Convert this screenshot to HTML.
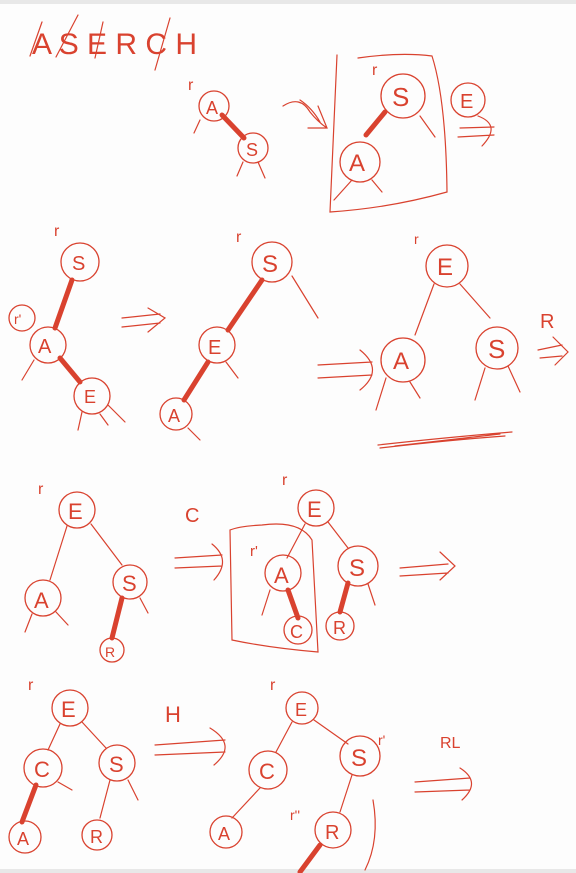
<!DOCTYPE html>
<html><head><meta charset="utf-8">
<style>
html,body{margin:0;padding:0;background:#fdfdfd;}
svg{display:block;}
text{font-family:"URW Chancery L","Z003","Comic Sans MS","Liberation Sans",cursive,sans-serif;fill:#d9422f;}
.c{fill:none;stroke:#d9422f;stroke-width:1.3;}
.l{fill:none;stroke:#d9422f;stroke-width:1.2;stroke-linecap:round;}
.t{fill:none;stroke:#d9422f;stroke-width:5;stroke-linecap:round;}
</style></head>
<body>
<svg width="576" height="873" viewBox="0 0 576 873">
<rect x="0" y="0" width="576" height="4" fill="#e8e8e8"/>
<rect x="0" y="869" width="576" height="4" fill="#e8e8e8"/>

<g>
<text x="32" y="54" font-size="30">A S E R C H</text>
<path class="l" d="M30 56 L42 22 M56 57 L78 15 M95 58 L103 22 M155 70 L170 18"/>
</g>

<!-- row 1 -->
<g>
<text x="188" y="90" font-size="16">r</text>
<line class="t" x1="222" y1="115" x2="244" y2="138"/>
<circle class="c" cx="214" cy="106" r="15"/><text x="206" y="114" font-size="18">A</text>
<circle class="c" cx="253" cy="148" r="15"/><text x="246" y="156" font-size="18">S</text>
<path class="l" d="M200 120 L194 133 M243 162 L237 176 M258 162 L265 178"/>
</g>
<g><path class="l" d="M283 106 Q300 95 310 112 Q318 122 327 128 M300 100 Q312 108 320 122 M308 128 L327 128 L318 106"/></g>
<g>
<path class="l" d="M337 55 L330 212 Q390 208 447 192 Q446 100 432 56 Q400 52 358 58"/>
<text x="372" y="75" font-size="16">r</text>
<line class="t" x1="385" y1="112" x2="366" y2="135"/>
<circle class="c" cx="403" cy="96" r="22"/><text x="392" y="106" font-size="26">S</text>
<circle class="c" cx="360" cy="162" r="20"/><text x="349" y="171" font-size="24">A</text>
<path class="l" d="M420 116 L435 137 M352 180 L334 200 M372 180 L382 192"/>
</g>
<g>
<circle class="c" cx="468" cy="100" r="17"/><text x="460" y="108" font-size="20">E</text>
<path class="l" d="M460 128 L494 127 M458 137 L494 135 M478 116 Q502 125 482 146"/>
</g>

<!-- row 2 -->
<g>
<text x="54" y="236" font-size="16">r</text>
<circle class="c" cx="80" cy="262" r="19"/><text x="72" y="270" font-size="20">S</text>
<line class="t" x1="72" y1="280" x2="55" y2="328"/>
<circle class="c" cx="22" cy="318" r="13"/><text x="14" y="324" font-size="14">r'</text>
<circle class="c" cx="48" cy="345" r="18"/><text x="38" y="353" font-size="20">A</text>
<line class="t" x1="60" y1="358" x2="80" y2="382"/>
<circle class="c" cx="92" cy="396" r="18"/><text x="84" y="403" font-size="18">E</text>
<path class="l" d="M34 360 L22 380 M100 414 L108 425 M82 412 L78 430 M108 405 L125 422"/>
</g>
<g><path class="l" d="M122 318 L160 314 M122 327 L160 323 M148 308 L165 318 L148 332"/></g>
<g>
<text x="236" y="242" font-size="16">r</text>
<circle class="c" cx="272" cy="262" r="20"/><text x="262" y="272" font-size="24">S</text>
<line class="t" x1="262" y1="280" x2="228" y2="330"/>
<circle class="c" cx="217" cy="345" r="18"/><text x="208" y="354" font-size="20">E</text>
<line class="t" x1="208" y1="362" x2="184" y2="400"/>
<circle class="c" cx="176" cy="414" r="16"/><text x="168" y="422" font-size="18">A</text>
<path class="l" d="M292 276 L318 318 M226 362 L238 378 M188 428 L200 440"/>
</g>
<g><path class="l" d="M318 365 L372 362 M318 378 L372 375 M360 350 Q385 370 360 390"/></g>
<g>
<text x="414" y="244" font-size="14">r</text>
<circle class="c" cx="447" cy="266" r="21"/><text x="437" y="275" font-size="24">E</text>
<path class="l" d="M434 284 L415 335 M460 284 L490 318"/>
<circle class="c" cx="403" cy="360" r="22"/><text x="393" y="369" font-size="24">A</text>
<circle class="c" cx="497" cy="348" r="21"/><text x="488" y="358" font-size="26">S</text>
<path class="l" d="M386 378 L376 410 M410 382 L420 398 M485 368 L475 400 M508 366 L520 392"/>
<text x="540" y="328" font-size="20">R</text>
<path class="l" d="M538 350 L562 345 M540 358 L562 356 M553 337 L568 352 L555 365"/>
<path class="l" d="M378 445 Q440 438 512 432 M380 448 Q450 440 505 436 M395 446 L500 434"/>
</g>

<!-- row 3 -->
<g>
<text x="38" y="494" font-size="16">r</text>
<circle class="c" cx="77" cy="510" r="18"/><text x="68" y="519" font-size="22">E</text>
<path class="l" d="M67 526 L50 580 M91 524 L122 565"/>
<circle class="c" cx="43" cy="598" r="18"/><text x="34" y="608" font-size="22">A</text>
<circle class="c" cx="130" cy="582" r="17"/><text x="122" y="591" font-size="22">S</text>
<line class="t" x1="122" y1="598" x2="112" y2="638"/>
<circle class="c" cx="112" cy="650" r="12"/><text x="105" y="657" font-size="14">R</text>
<path class="l" d="M32 614 L25 632 M56 612 L68 625 M140 598 L148 613"/>
</g>
<text x="185" y="522" font-size="20">C</text>
<g><path class="l" d="M175 558 L222 555 M175 568 L222 566 M212 544 Q232 560 214 580"/></g>
<g>
<path class="l" d="M230 530 L232 640 Q270 648 318 652 L312 540 Q300 520 262 525 Q240 526 230 530"/>
<text x="250" y="556" font-size="15">r'</text>
<text x="282" y="485" font-size="16">r</text>
<circle class="c" cx="316" cy="508" r="18"/><text x="307" y="517" font-size="22">E</text>
<path class="l" d="M305 524 L287 558 M328 522 L348 548"/>
<circle class="c" cx="283" cy="573" r="18"/><text x="274" y="583" font-size="22">A</text>
<circle class="c" cx="358" cy="566" r="20"/><text x="349" y="576" font-size="24">S</text>
<line class="t" x1="288" y1="590" x2="298" y2="618"/>
<line class="t" x1="348" y1="583" x2="340" y2="612"/>
<circle class="c" cx="298" cy="630" r="14"/><text x="290" y="638" font-size="18">C</text>
<circle class="c" cx="340" cy="626" r="14"/><text x="333" y="634" font-size="18">R</text>
<path class="l" d="M270 590 L262 615 M368 584 L375 605"/>
</g>
<g><path class="l" d="M400 568 L448 564 M400 576 L448 573 M440 552 L455 566 L440 580"/></g>

<!-- row 4 -->
<g>
<text x="28" y="690" font-size="16">r</text>
<circle class="c" cx="70" cy="708" r="18"/><text x="61" y="717" font-size="22">E</text>
<path class="l" d="M60 724 L48 750 M82 722 L106 748"/>
<circle class="c" cx="43" cy="768" r="19"/><text x="34" y="777" font-size="22">C</text>
<circle class="c" cx="117" cy="763" r="18"/><text x="109" y="772" font-size="22">S</text>
<line class="t" x1="36" y1="785" x2="22" y2="822"/>
<circle class="c" cx="25" cy="837" r="16"/><text x="17" y="845" font-size="18">A</text>
<circle class="c" cx="97" cy="835" r="15"/><text x="90" y="843" font-size="18">R</text>
<path class="l" d="M58 782 L72 790 M110 780 L100 818 M128 780 L138 800"/>
</g>
<text x="165" y="722" font-size="22">H</text>
<g><path class="l" d="M155 745 L225 740 M155 755 L225 752 M210 728 Q238 745 214 765"/></g>
<g>
<text x="270" y="690" font-size="16">r</text>
<circle class="c" cx="302" cy="708" r="16"/><text x="295" y="716" font-size="18">E</text>
<path class="l" d="M292 722 L276 752 M314 720 L348 744"/>
<circle class="c" cx="268" cy="770" r="19"/><text x="259" y="779" font-size="22">C</text>
<circle class="c" cx="360" cy="756" r="20"/><text x="351" y="766" font-size="24">S</text>
<text x="378" y="745" font-size="14">r'</text>
<path class="l" d="M260 788 L232 818"/>
<circle class="c" cx="226" cy="832" r="16"/><text x="218" y="840" font-size="18">A</text>
<path class="l" d="M352 775 L340 812 M373 800 Q380 840 365 870"/>
<text x="290" y="820" font-size="14">r''</text>
<circle class="c" cx="333" cy="830" r="18"/><text x="325" y="839" font-size="20">R</text>
<line class="t" x1="320" y1="845" x2="300" y2="872"/>
</g>
<text x="440" y="748" font-size="16">RL</text>
<g><path class="l" d="M415 782 L470 778 M415 792 L470 790 M460 768 Q482 782 462 800"/></g>
</svg>
</body></html>
